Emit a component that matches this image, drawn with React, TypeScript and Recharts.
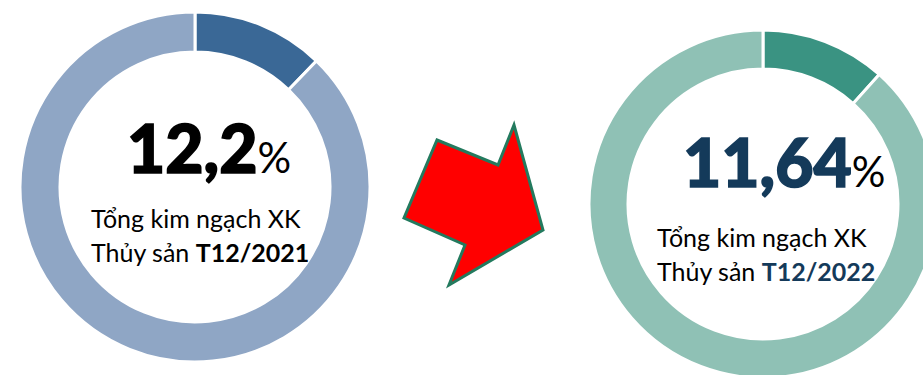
import { PieChart, Pie, Cell } from 'recharts';

// share of total seafood export turnover
const share2021 = [
  { name: 'T12/2021', value: 12.2 },
  { name: 'Khác', value: 87.8 },
];
const share2022 = [
  { name: 'T12/2022', value: 11.64 },
  { name: 'Khác', value: 88.36 },
];
const colors2021 = ['#3A6896', '#8FA6C5'];
const colors2022 = ['#3A9382', '#8FC1B5'];

const FONT = 'Lato, "Open Sans", sans-serif';

const CenterText = ({ x, y, big, bigColor, period, periodColor, dy, tx }: any) => (
  <g fontFamily={FONT}>
    <text x={x} y={y} fill={bigColor} stroke={bigColor} strokeWidth={1.6} fontSize={66} fontWeight={900}>
      {big}
      <tspan fontSize={42} fontWeight={400} fill="#000" stroke="none">%</tspan>
    </text>
    <text x={tx} y={y + dy} fill="#000" fontSize={25}>
      Tổng kim ngạch XK
    </text>
    <text x={tx} y={y + dy + 34} fill="#000" fontSize={25}>
      Thủy sản <tspan fontWeight={700} fill={periodColor}>{period}</tspan>
    </text>
  </g>
);

export default function App() {
  return (
    <div style={{ position: 'absolute', left: 0, top: 0, width: 923, height: 375, background: '#fff' }}>
      <PieChart
        width={923}
        height={375}
        margin={{ top: 0, right: 0, bottom: 0, left: 0 }}
        style={{ position: 'absolute', left: 0, top: 0 }}
      >
        <Pie
          data={share2021}
          dataKey="value"
          cx={195}
          cy={187}
          innerRadius={135}
          outerRadius={175}
          startAngle={90}
          endAngle={-270}
          stroke="#fff"
          strokeWidth={3}
          isAnimationActive={false}
        >
          {share2021.map((d, i) => (
            <Cell key={d.name} fill={colors2021[i]} />
          ))}
        </Pie>
        <Pie
          data={share2022}
          dataKey="value"
          cx={763}
          cy={204}
          innerRadius={135}
          outerRadius={174}
          startAngle={90}
          endAngle={-270}
          stroke="#fff"
          strokeWidth={3}
          isAnimationActive={false}
        >
          {share2022.map((d, i) => (
            <Cell key={d.name} fill={colors2022[i]} />
          ))}
        </Pie>
      </PieChart>
      <svg width={923} height={375} style={{ position: 'absolute', left: 0, top: 0 }}>
        <polygon
          points="437,140 498,165 514,125 543,230 449,285 465,245 404,218"
          fill="#FF0000"
          stroke="#237A5E"
          strokeWidth={3}
          strokeLinejoin="miter"
        />
        <CenterText x={127} y={173} dy={55} tx={91} big="12,2" bigColor="#000" period="T12/2021" periodColor="#000" />
        <CenterText x={683} y={187} dy={60} tx={657} big="11,64" bigColor="#143A5A" period="T12/2022" periodColor="#143A5A" />
      </svg>
    </div>
  );
}
